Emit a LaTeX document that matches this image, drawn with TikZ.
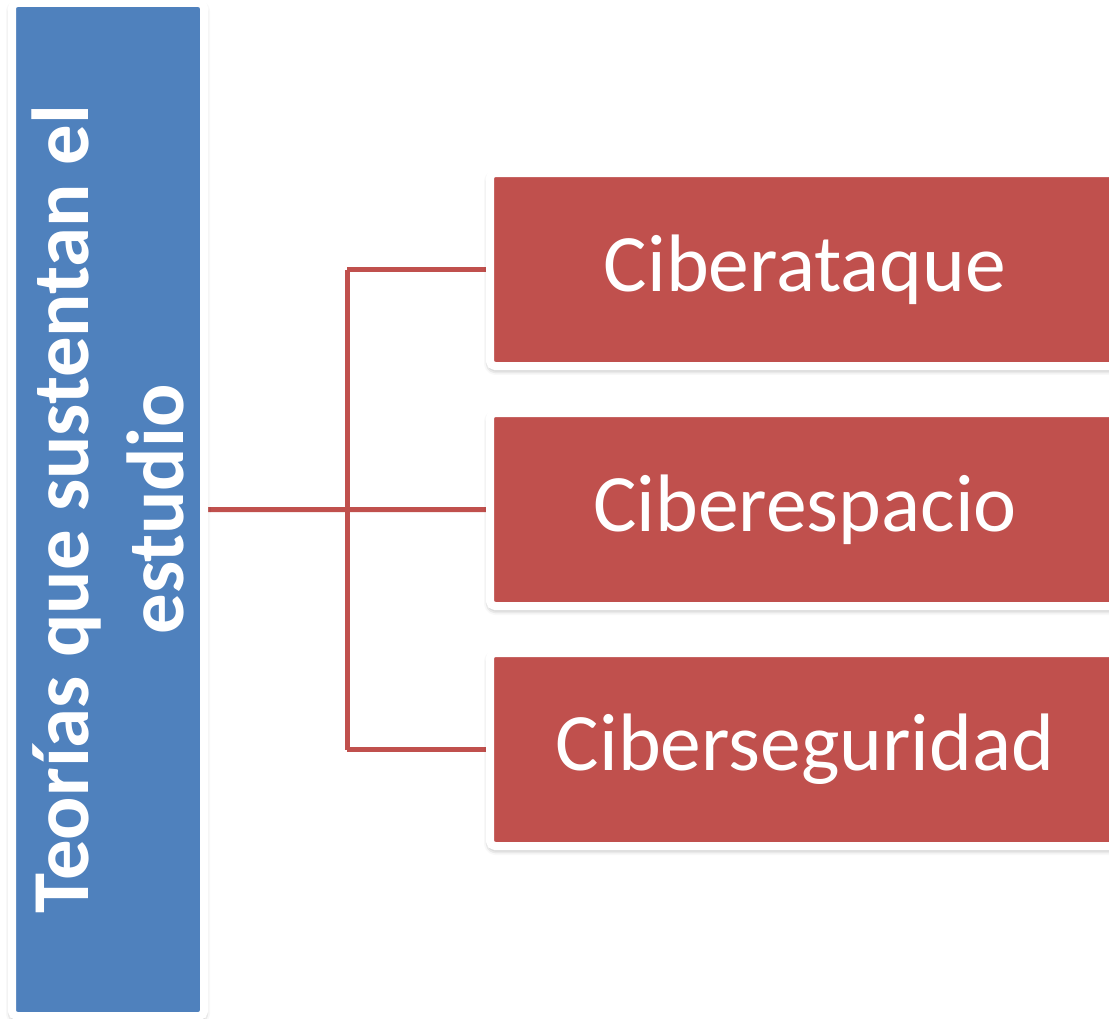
\documentclass[tikz,border=0pt]{standalone}
\usepackage{fontspec}
\setmainfont{Carlito}
\usetikzlibrary{positioning,shadows.blur,backgrounds}

\definecolor{themeblue}{HTML}{4F81BD}
\definecolor{themered}{HTML}{C0504D}

\begin{document}
\begin{tikzpicture}
\tikzset{
  framed/.style={draw=white, line width=0.08cm, rounded corners=0.05cm,
    blur shadow={shadow xshift=0cm, shadow yshift=-0.03cm,
      shadow blur radius=0.06cm, shadow opacity=45}},
  theorybox/.style={framed, fill=themeblue, minimum width=1.92cm,
    minimum height=10.13cm, inner sep=0pt, text=white,
    font=\fontsize{23}{27}\selectfont\bfseries},
  topicbox/.style={framed, fill=themered, minimum width=6.30cm,
    minimum height=1.93cm, inner sep=0pt, text=white,
    font=\fontsize{23.2}{28}\selectfont},
  link/.style={themered, line width=0.05cm},
}

\useasboundingbox (0,0) rectangle (11.09,10.18);

%\draw [lightgray, dashed](0,0) grid (11,10);

\node [theorybox] (T) at (1.08,5.085)
  {\rotatebox{90}{\parbox{9.5cm}{\centering Teorías que sustentan el\\estudio}}};

\node [topicbox] (A) at (8.05,7.485) {Ciberataque};
\node [topicbox, below=0.39cm of A] (E) {Ciberespacio};
\node [topicbox, below=0.39cm of E] (S) {Ciberseguridad};

\coordinate (J) at (3.47,5.085);

\begin{scope}[on background layer]
\draw [link] (T.east) -- (E.west);
\draw [link] (J |- A.west) -- (A.west);
\draw [link] (J |- S.west) -- (S.west);
\draw [link] (J |- A.west) -- (J |- S.west);
\end{scope}

\end{tikzpicture}
\end{document}
